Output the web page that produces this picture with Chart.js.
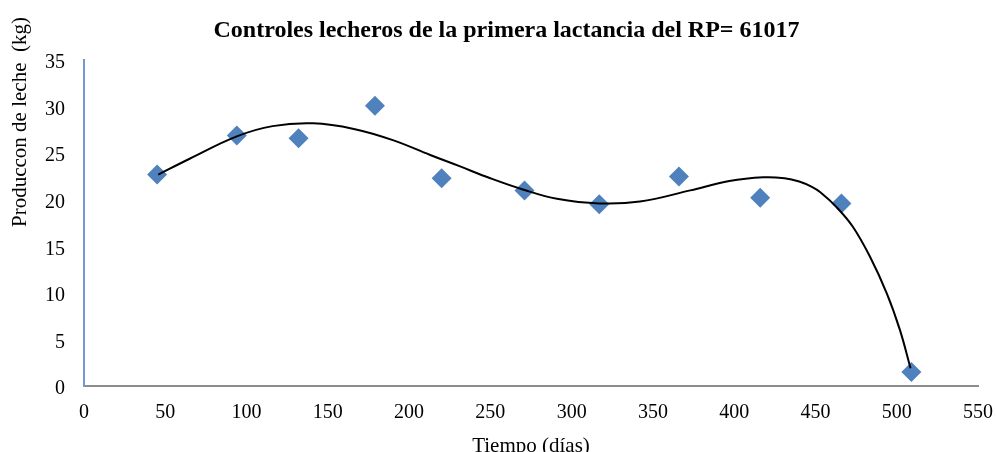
<!DOCTYPE html>
<html>
<head>
<meta charset="utf-8">
<script src="https://cdn.jsdelivr.net/npm/chart.js@4.4.1/dist/chart.umd.min.js"></script>
<style>
  body { margin: 0; background: #fff; }
  #wrap { width: 996px; height: 452px; }
</style>
</head>
<body>
<div id="wrap"><canvas id="myChart"></canvas></div>
<script>
// control days and milk (kg)
const dias = [45, 94, 132, 179, 220, 271, 317, 366, 416, 466, 509]
const leche = [22.7, 26.9, 26.6, 30.1, 22.3, 21.0, 19.5, 22.5, 20.2, 19.6, 1.5]

// trend line
const tendX = [45.7, 65, 94, 116, 141, 166, 190, 213, 231, 250, 270, 291, 317, 342, 373, 397, 418, 431, 440, 447.5, 453, 463, 473, 483.5, 494, 502, 508.5]
const tendY = [22.7, 24.4, 26.8, 27.9, 28.2, 27.6, 26.4, 24.8, 23.6, 22.3, 21.1, 20.1, 19.6, 19.8, 21.0, 22.0, 22.4, 22.3, 21.95, 21.4, 20.8, 19.2, 17.1, 13.9, 9.9, 6.0, 1.9]

const xTicks = [0, 50, 100, 150, 200, 250, 300, 350, 400, 450, 500, 550]
const yTicks = [0, 5, 10, 15, 20, 25, 30, 35]

const serif = '"Liberation Serif", "Times New Roman", serif'

// y axis title drawn by hand, it sits above the axis centre in the original
const yTitle = {
    id: 'yTitle',
    afterDraw(chart) {
        const ctx = chart.ctx
        ctx.save()
        ctx.translate(20, 122)
        ctx.rotate(-Math.PI / 2)
        ctx.font = '21px ' + serif
        ctx.fillStyle = '#000'
        ctx.textAlign = 'center'
        ctx.textBaseline = 'middle'
        ctx.fillText('Produccon de leche  (kg)', 0, 0)
        ctx.restore()
    }
}

const ctx = document.getElementById('myChart').getContext('2d')
const myChart = new Chart(ctx, {
    type: 'scatter',
    data: {
        datasets: [{
            label: 'Tendencia',
            data: tendX.map((x, i) => ({x: x, y: tendY[i]})),
            showLine: true,
            borderColor: '#000',
            borderWidth: 2,
            pointRadius: 0,
            tension: 0.4
        }, {
            label: 'Controles',
            data: dias.map((x, i) => ({x: x, y: leche[i]})),
            pointStyle: 'rectRot',
            pointRadius: 10,
            backgroundColor: '#4f81bd',
            borderColor: '#4f81bd',
            borderWidth: 0
        }]
    },
    options: {
        responsive: true,
        maintainAspectRatio: false,
        animation: false,
        layout: {
            padding: {left: 17, right: 0, top: 0, bottom: 0}
        },
        plugins: {
            legend: { display: false },
            tooltip: { enabled: false },
            title: {
                display: true,
                text: 'Controles lecheros de la primera lactancia del RP= 61017',
                color: '#000',
                font: { family: serif, size: 24, weight: 'bold' },
                padding: { top: 16.1, bottom: 15.1 }
            }
        },
        scales: {
            x: {
                type: 'linear',
                min: 0,
                max: 550,
                afterBuildTicks: function(scale) {
                    scale.ticks = xTicks.map(v => ({value: v}))
                },
                afterFit: function(scale) {
                    scale.height = 66
                    scale.paddingRight = 18
                },
                grid: { display: false, drawTicks: false },
                border: { display: true, color: '#8c8c8c', width: 2 },
                ticks: {
                    color: '#000',
                    padding: 15,
                    font: { family: serif, size: 20 }
                },
                title: {
                    display: true,
                    text: 'Tiempo (días)',
                    color: '#000',
                    font: { family: serif, size: 21 },
                    padding: { top: 0, bottom: -6.6 }
                }
            },
            y: {
                min: 0,
                max: 35,
                afterBuildTicks: function(scale) {
                    scale.ticks = yTicks.map(v => ({value: v}))
                },
                afterFit: function(scale) {
                    scale.width = 67
                },
                grid: { display: false, drawTicks: false },
                border: { display: true, color: '#7399cf', width: 2 },
                ticks: {
                    color: '#000',
                    padding: 19,
                    labelOffset: 3,
                    font: { family: serif, size: 20 }
                }
            }
        }
    },
    plugins: [yTitle]
})
</script>
</body>
</html>
